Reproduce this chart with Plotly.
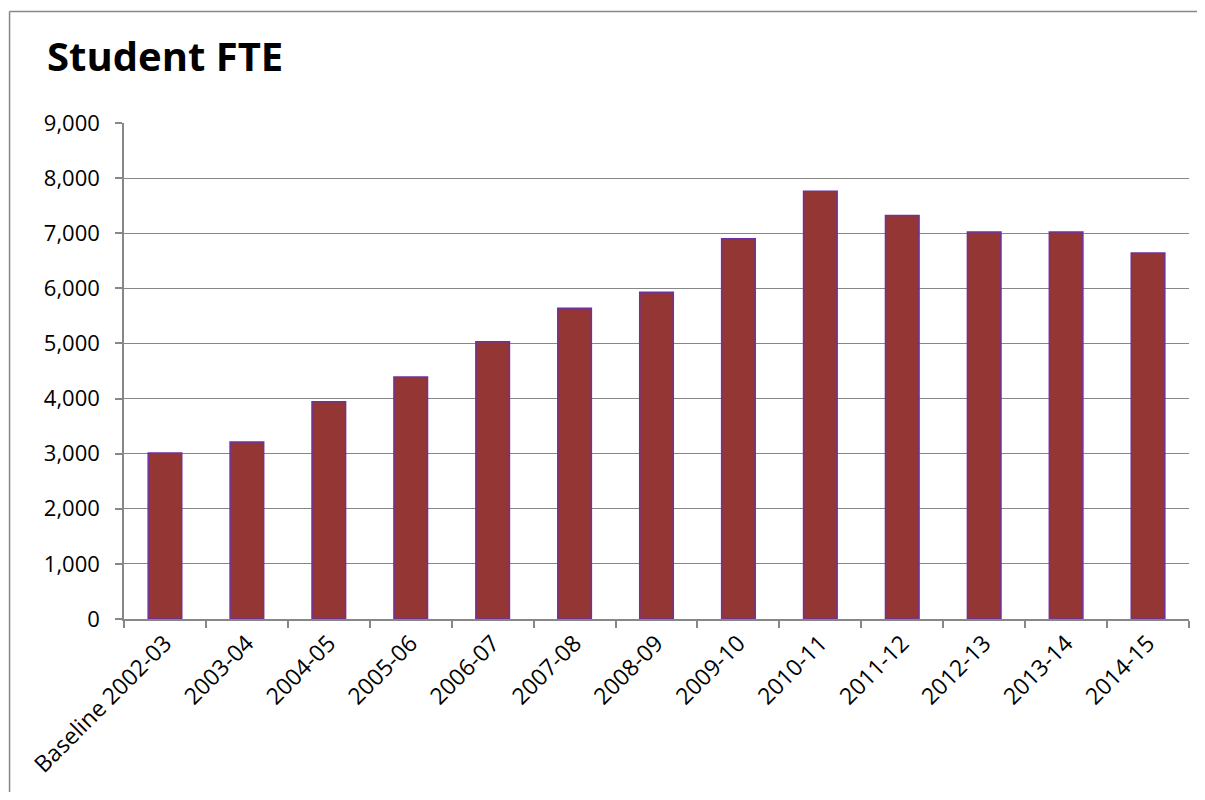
import plotly.graph_objects as go

categories = ["Baseline 2002-03", "2003-04", "2004-05", "2005-06", "2006-07", "2007-08",
              "2008-09", "2009-10", "2010-11", "2011-12", "2012-13", "2013-14", "2014-15"]
student_fte = [3010, 3210, 3940, 4390, 5030, 5640, 5930, 6900, 7760, 7320, 7020, 7020, 6640]
y_ticks = [0, 1000, 2000, 3000, 4000, 5000, 6000, 7000, 8000, 9000]

# page has an 8px body margin on every side; figure sized to fit inside it
OFF = 8
W, H = 1205 - 2 * OFF, 800 - 2 * OFF
PLOT_L, PLOT_R, PLOT_T, PLOT_B = 123.5, 1189, 122.5, 618.7   # page pixels
L, T = PLOT_L - OFF, PLOT_T - OFF
R = (OFF + W) - PLOT_R
B = (OFF + H) - PLOT_B
pw = W - L - R
ph = H - T - B

GRID = "#878787"
FONT = "Open Sans"

fig = go.Figure()
fig.add_trace(go.Bar(
    x=categories, y=student_fte,
    marker=dict(color="#943634", line=dict(color="#7030A0", width=1.5)),
))

fig.update_layout(
    width=W, height=H,
    margin=dict(l=L, r=R, t=T, b=B, autoexpand=False),
    paper_bgcolor="white", plot_bgcolor="white",
    bargap=0.59,
    showlegend=False,
    font=dict(family=FONT, size=22, color="black"),
    title=dict(text="<b>Student FTE</b>", x=(47 - OFF) / W, xanchor="left", xref="container",
               y=1 - (57 - OFF) / H, yanchor="middle", yref="container",
               font=dict(family=FONT, size=40, color="black")),
)
fig.update_xaxes(
    type="category", tickangle=-45, showline=True, linecolor=GRID, linewidth=1.5,
    ticks="outside", tickson="boundaries", ticklen=7, tickcolor=GRID, tickwidth=1.5,
    showgrid=False, tickfont=dict(family=FONT, size=23),
)
fig.update_yaxes(
    range=[0, 9000], tickvals=y_ticks, tickformat=",", showline=True, linecolor=GRID,
    linewidth=1.5, ticks="outside", ticklen=7, tickcolor=GRID, tickwidth=1.5,
    showgrid=True, gridcolor=GRID, gridwidth=1.3, zeroline=False,
    ticklabelstandoff=11, tickfont=dict(family=FONT, size=22),
)
# outer chart border: left and top edges (the rest lies outside the picture)
bx = (9 - OFF - L) / pw
by = ((H - B) - (11 - OFF)) / ph
fig.add_shape(type="line", xref="paper", yref="paper", x0=bx, x1=bx, y0=-(B + 20) / ph, y1=by,
              line=dict(color=GRID, width=1.5), layer="below")
fig.add_shape(type="line", xref="paper", yref="paper", x0=bx, x1=(W + 20 - L) / pw, y0=by, y1=by,
              line=dict(color=GRID, width=1.5), layer="below")

fig.write_html("out.html")
